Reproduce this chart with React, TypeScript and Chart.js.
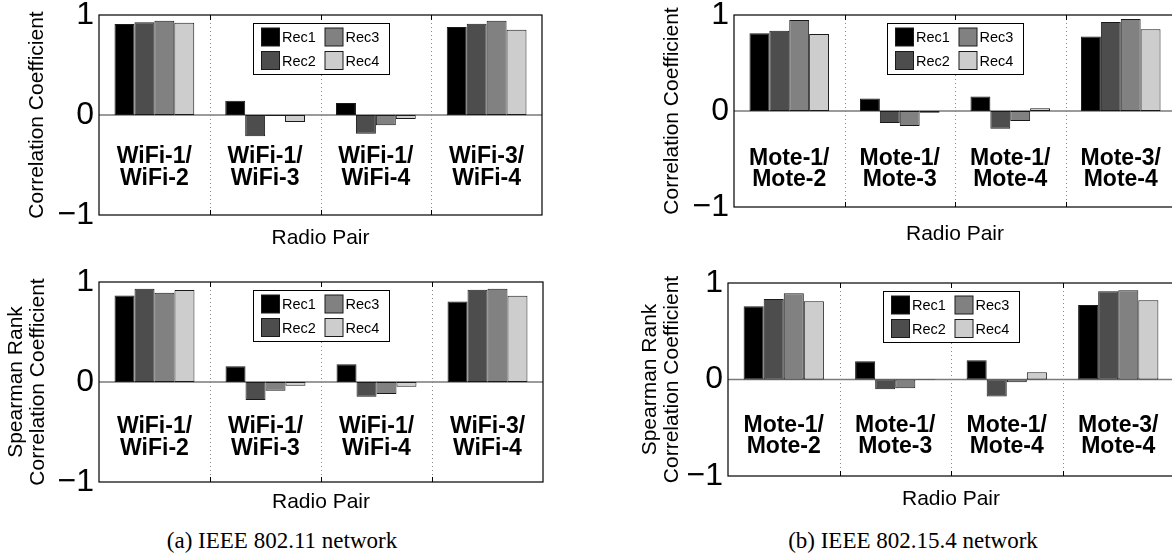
import React, { useEffect, useRef } from 'react';
import { Chart, registerables } from 'chart.js';

Chart.register(...registerables);

// ---------- data ----------
const wifiCategories = [
  ['WiFi-1/', 'WiFi-2'],
  ['WiFi-1/', 'WiFi-3'],
  ['WiFi-1/', 'WiFi-4'],
  ['WiFi-3/', 'WiFi-4'],
];
const moteCategories = [
  ['Mote-1/', 'Mote-2'],
  ['Mote-1/', 'Mote-3'],
  ['Mote-1/', 'Mote-4'],
  ['Mote-3/', 'Mote-4'],
];
const seriesNames = ['Rec1', 'Rec2', 'Rec3', 'Rec4'];
const yTickValues = [-1, 0, 1];

// (a) IEEE 802.11 - correlation coefficient
const wifiCorrRec1 = [0.91, 0.143, 0.12, 0.88];
const wifiCorrRec2 = [0.927, -0.213, -0.187, 0.913];
const wifiCorrRec3 = [0.943, -0.01, -0.103, 0.943];
const wifiCorrRec4 = [0.923, -0.07, -0.04, 0.853];

// (a) IEEE 802.11 - Spearman rank correlation coefficient
const wifiRankRec1 = [0.866, 0.157, 0.177, 0.806];
const wifiRankRec2 = [0.933, -0.18, -0.147, 0.923];
const wifiRankRec3 = [0.893, -0.087, -0.12, 0.933];
const wifiRankRec4 = [0.92, -0.037, -0.047, 0.863];

// (b) IEEE 802.15.4 - correlation coefficient
const moteCorrRec1 = [0.809, 0.131, 0.151, 0.775];
const moteCorrRec2 = [0.836, -0.124, -0.186, 0.927];
const moteCorrRec3 = [0.947, -0.155, -0.103, 0.958];
const moteCorrRec4 = [0.802, -0.017, 0.028, 0.851];

// (b) IEEE 802.15.4 - Spearman rank correlation coefficient
const moteRankRec1 = [0.759, 0.19, 0.2, 0.772];
const moteRankRec2 = [0.834, -0.1, -0.176, 0.914];
const moteRankRec3 = [0.893, -0.09, -0.028, 0.924];
const moteRankRec4 = [0.81, -0.005, 0.076, 0.821];

// ---------- styles ----------
const SANS = '"Liberation Sans", Arial, Helvetica, sans-serif';
const SERIF = '"Liberation Serif", "Times New Roman", serif';
const seriesColors = ['#000000', '#4d4d4d', '#818181', '#cdcdcd'];

const decorPlugin = {
  id: 'decor',
  beforeDatasetsDraw(chart: any) {
    const { ctx, chartArea: a, scales } = chart;
    const x = scales.x;
    const y = scales.y;
    const n = chart.data.labels.length;
    ctx.save();
    // dotted dividers between categories
    ctx.strokeStyle = '#8a8a8a';
    ctx.lineWidth = 1;
    ctx.setLineDash([1, 3]);
    for (let i = 0; i < n - 1; i++) {
      const px = Math.round((x.getPixelForValue(i) + x.getPixelForValue(i + 1)) / 2) + 0.5;
      ctx.beginPath();
      ctx.moveTo(px, a.top);
      ctx.lineTo(px, a.bottom);
      ctx.stroke();
    }
    ctx.setLineDash([]);
    // baseline at zero
    const y0 = y.getPixelForValue(0);
    ctx.strokeStyle = '#7a7a7a';
    ctx.lineWidth = 1.6;
    ctx.beginPath();
    ctx.moveTo(a.left, y0);
    ctx.lineTo(a.right, y0);
    ctx.stroke();
    ctx.restore();
  },
  afterDatasetsDraw(chart: any, _args: any, opts: any) {
    const { ctx, chartArea: a, scales } = chart;
    const x = scales.x;
    const y = scales.y;
    const n = chart.data.labels.length;
    ctx.save();
    // frame
    ctx.strokeStyle = '#000';
    ctx.lineWidth = 1.2;
    ctx.strokeRect(a.left, a.top, a.right - a.left, a.bottom - a.top);
    // inward tick marks at dividers
    ctx.lineWidth = 1;
    for (let i = 0; i < n - 1; i++) {
      const px = Math.round((x.getPixelForValue(i) + x.getPixelForValue(i + 1)) / 2) + 0.5;
      ctx.beginPath();
      ctx.moveTo(px, a.top);
      ctx.lineTo(px, a.top + 5);
      ctx.moveTo(px, a.bottom);
      ctx.lineTo(px, a.bottom - 5);
      ctx.stroke();
    }
    // category labels inside the plot
    const y0 = y.getPixelForValue(0);
    const cats: string[][] = opts.categories;
    ctx.fillStyle = '#000';
    ctx.font = `bold 23px ${SANS}`;
    ctx.textAlign = 'center';
    ctx.textBaseline = 'middle';
    cats.forEach((lines, i) => {
      const cx = x.getPixelForValue(i);
      lines.forEach((t, j) => {
        ctx.fillText(t, cx, y0 + opts.labelOffsets[j]);
      });
    });
    // legend (2 x 2, column major)
    const bw = 136;
    const bh = 51;
    const bl = Math.round((a.left + a.right) / 2 - bw / 2) + 0.5;
    const bt = Math.round(a.top + 8) + 0.5;
    ctx.fillStyle = '#fff';
    ctx.fillRect(bl, bt, bw, bh);
    ctx.strokeStyle = '#000';
    ctx.lineWidth = 1;
    ctx.strokeRect(bl, bt, bw, bh);
    ctx.font = `14.5px ${SANS}`;
    ctx.textAlign = 'left';
    chart.data.datasets.forEach((ds: any, i: number) => {
      const col = Math.floor(i / 2);
      const row = i % 2;
      const sx = bl + 8 + col * 63.5;
      const sy = bt + 4.5 + row * 23.5;
      ctx.fillStyle = ds.backgroundColor;
      ctx.fillRect(sx, sy, 18, 18);
      ctx.strokeStyle = '#1a1a1a';
      ctx.strokeRect(sx, sy, 18, 18);
      ctx.fillStyle = '#000';
      ctx.fillText(ds.label, sx + 20.5, sy + 10);
    });
    ctx.restore();
  },
};

type PanelCfg = {
  left: number;
  top: number;
  width: number;
  height: number;
  area: { left: number; top: number; right: number; bottom: number };
  yTitle: string | string[];
  yTitlePad: number;
  xTitlePad: number;
  categories: string[][];
  series: number[][];
  labelOffsets: number[];
};

function buildConfig(cfg: PanelCfg): any {
  return {
    type: 'bar',
    data: {
      labels: cfg.categories.map((c) => c.join(' ')),
      datasets: seriesNames.map((name, i) => ({
        label: name,
        data: cfg.series[i],
        backgroundColor: seriesColors[i],
        borderColor: '#1a1a1a',
        borderWidth: 1,
        borderSkipped: false,
        categoryPercentage: 0.72,
        barPercentage: 1,
      })),
    },
    options: {
      animation: false,
      responsive: false,
      devicePixelRatio: 1,
      layout: {
        padding: { left: 0, top: cfg.area.top, right: cfg.width - cfg.area.right, bottom: 0 },
      },
      plugins: {
        legend: { display: false },
        tooltip: { enabled: false },
        decor: { categories: cfg.categories, labelOffsets: cfg.labelOffsets },
      },
      scales: {
        x: {
          type: 'category',
          grid: { display: false, drawTicks: false },
          border: { display: false },
          ticks: { display: false },
          title: {
            display: true,
            text: 'Radio Pair',
            color: '#000',
            font: { family: SANS, size: 21, lineHeight: 1.05 },
            padding: { top: 0, bottom: cfg.xTitlePad },
          },
          afterFit: (s: any) => {
            s.height = cfg.height - cfg.area.bottom;
            s.paddingLeft = 0;
            s.paddingRight = 0;
          },
        },
        y: {
          min: -1,
          max: 1,
          afterBuildTicks: (s: any) => {
            s.ticks = yTickValues.map((v) => ({ value: v }));
          },
          grid: { display: false, drawTicks: false },
          border: { display: false },
          ticks: {
            color: '#000',
            padding: 5,
            font: { family: SANS, size: 32, lineHeight: 1 },
            callback: (v: number) => (v < 0 ? '\u2212' + Math.abs(v) : String(v)),
          },
          title: {
            display: true,
            text: cfg.yTitle,
            color: '#000',
            font: { family: SANS, size: 21, lineHeight: 1.05 },
            padding: { top: cfg.yTitlePad, bottom: 0 },
          },
          afterFit: (s: any) => {
            s.width = cfg.area.left;
            s.paddingTop = 0;
            s.paddingBottom = 0;
          },
        },
      },
    },
    plugins: [decorPlugin],
  };
}

const panels: PanelCfg[] = [
  {
    left: 0, top: 0, width: 560, height: 260,
    area: { left: 99, top: 15, right: 542, bottom: 215 },
    yTitle: 'Correlation Coefficient', yTitlePad: 26.5, xTitlePad: 11,
    categories: wifiCategories,
    series: [wifiCorrRec1, wifiCorrRec2, wifiCorrRec3, wifiCorrRec4],
    labelOffsets: [41.5, 63.5],
  },
  {
    left: 0, top: 260, width: 560, height: 260,
    area: { left: 99, top: 22, right: 543, bottom: 222 },
    yTitle: ['Spearman Rank', 'Correlation Coefficient'], yTitlePad: 5, xTitlePad: 6.5,
    categories: wifiCategories,
    series: [wifiRankRec1, wifiRankRec2, wifiRankRec3, wifiRankRec4],
    labelOffsets: [45, 67],
  },
  {
    left: 580, top: 0, width: 620, height: 260,
    area: { left: 154, top: 15, right: 596, bottom: 207 },
    yTitle: 'Correlation Coefficient', yTitlePad: 81, xTitlePad: 15,
    categories: moteCategories,
    series: [moteCorrRec1, moteCorrRec2, moteCorrRec3, moteCorrRec4],
    labelOffsets: [48, 68.5],
  },
  {
    left: 580, top: 260, width: 620, height: 260,
    area: { left: 148, top: 23, right: 594, bottom: 216 },
    yTitle: ['Spearman Rank', 'Correlation Coefficient'], yTitlePad: 59, xTitlePad: 10,
    categories: moteCategories,
    series: [moteRankRec1, moteRankRec2, moteRankRec3, moteRankRec4],
    labelOffsets: [46, 67.5],
  },
];

function Panel({ cfg }: { cfg: PanelCfg }) {
  const ref = useRef<HTMLCanvasElement>(null);
  useEffect(() => {
    const chart = new Chart(ref.current as HTMLCanvasElement, buildConfig(cfg));
    return () => chart.destroy();
  }, [cfg]);
  return (
    <canvas
      ref={ref}
      width={cfg.width}
      height={cfg.height}
      style={{ position: 'absolute', left: cfg.left, top: cfg.top, width: cfg.width, height: cfg.height }}
    />
  );
}

const captionStyle = (cx: number): React.CSSProperties => ({
  position: 'absolute',
  left: cx - 200,
  width: 400,
  top: 529,
  lineHeight: '24px',
  fontSize: 23,
  fontFamily: SERIF,
  textAlign: 'center',
  color: '#000',
  whiteSpace: 'nowrap',
});

export default function App() {
  return (
    <div
      style={{
        position: 'absolute',
        left: 0,
        top: 0,
        width: 1172,
        height: 557,
        overflow: 'hidden',
        background: '#fff',
      }}
    >
      {panels.map((p, i) => (
        <Panel key={i} cfg={p} />
      ))}
      <div style={captionStyle(282)}>(a) IEEE 802.11 network</div>
      <div style={captionStyle(913)}>(b) IEEE 802.15.4 network</div>
    </div>
  );
}
